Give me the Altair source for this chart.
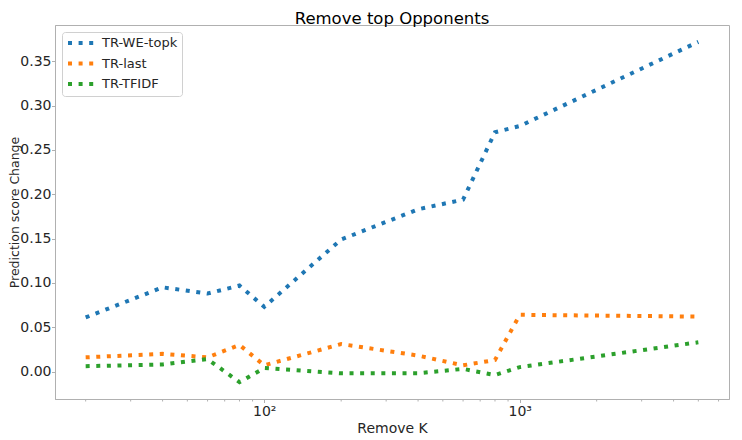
import altair as alt
import pandas as pd

k_values = [20, 40, 60, 80, 100, 200, 400, 600, 800, 1000, 5000]
we_topk = [0.061, 0.095, 0.088, 0.097, 0.073, 0.149, 0.183, 0.194, 0.270, 0.277, 0.372]
tr_last = [0.016, 0.020, 0.016, 0.030, 0.007, 0.031, 0.018, 0.007, 0.013, 0.064, 0.062]
tr_tfidf = [0.006, 0.008, 0.014, -0.012, 0.004, -0.002, -0.002, 0.003, -0.004, 0.005, 0.033]
series_names = ["TR-WE-topk", "TR-last", "TR-TFIDF"]
series_colors = ["#1f77b4", "#ff7f0e", "#2ca02c"]
y_ticks = [0.0, 0.05, 0.10, 0.15, 0.20, 0.25, 0.30, 0.35]
x_major = [100, 1000]
x_minor = [20, 30, 40, 50, 60, 70, 80, 90, 200, 300, 400, 500, 600, 700, 800, 900,
           2000, 3000, 4000, 5000, 6000]

rows = []
for name, vals in zip(series_names, [we_topk, tr_last, tr_tfidf]):
    for i, (kk, v) in enumerate(zip(k_values, vals)):
        rows.append({"K": kk, "value": v, "series": name, "idx": i})
df = pd.DataFrame(rows)
minor_df = pd.DataFrame({"K": x_minor})

W, H = 674, 374
FONT = "DejaVu Sans"
GRAY = "#b0b0b0"
TXT = "#262626"

xscale = alt.Scale(type="log", domain=[15.17, 6592], nice=False)
yscale = alt.Scale(domain=[-0.031, 0.391], nice=False, zero=False)

lines = alt.Chart(df).mark_line(
    strokeWidth=4, strokeDash=[4, 6.6], strokeCap="butt", clip=True
).encode(
    x=alt.X("K:Q", scale=xscale, title="Remove K",
            axis=alt.Axis(values=x_major, grid=False,
                          labelExpr="datum.value == 100 ? '10²' : '10³'",
                          tickSize=3.5, labelPadding=2, titlePadding=3,
                          labelFontSize=14, titleFontSize=14)),
    y=alt.Y("value:Q", scale=yscale, title="Prediction score Change",
            axis=alt.Axis(values=y_ticks, format=".2f", grid=False,
                          tickSize=3.5, labelPadding=0.5, titlePadding=-1.3,
                          labelFontSize=14, titleFontSize=12.5)),
    color=alt.Color("series:N",
                    scale=alt.Scale(domain=series_names, range=series_colors),
                    legend=alt.Legend(title=None, orient="top-left", offset=7,
                                      symbolType="M-1,0H4.6", symbolSize=100,
                                      symbolStrokeWidth=4, symbolDash=[4, 6.6],
                                      labelFontSize=13, labelFont=FONT,
                                      labelColor=TXT, labelOffset=22,
                                      labelExpr="datum.label + '       '",
                                      rowPadding=4.5, padding=4,
                                      strokeColor="#d0d0d0", fillColor="white",
                                      cornerRadius=3)),
    order="idx:Q",
)

minor = alt.Chart(minor_df).mark_rule(color=GRAY, strokeWidth=1).encode(
    x=alt.X("K:Q", scale=xscale),
    y=alt.value(H),
    y2=alt.value(H + 2.5),
)

chart = alt.layer(lines, minor).properties(
    width=W, height=H,
    title=alt.Title("Remove top Opponents", fontSize=16.5, font=FONT,
                    fontWeight="normal", color="black", anchor="middle", offset=-2),
    autosize=alt.AutoSizeParams(type="none"),
    padding={"left": 47, "top": 17, "right": 5, "bottom": 40},
).configure_view(
    stroke=GRAY, strokeWidth=1
).configure_axis(
    labelFont=FONT, titleFont=FONT, labelColor=TXT, titleColor=TXT,
    titleFontWeight="normal", domainColor=GRAY, tickColor=GRAY,
)

chart.save("out.html", embed_options={"renderer": "svg", "actions": False})
